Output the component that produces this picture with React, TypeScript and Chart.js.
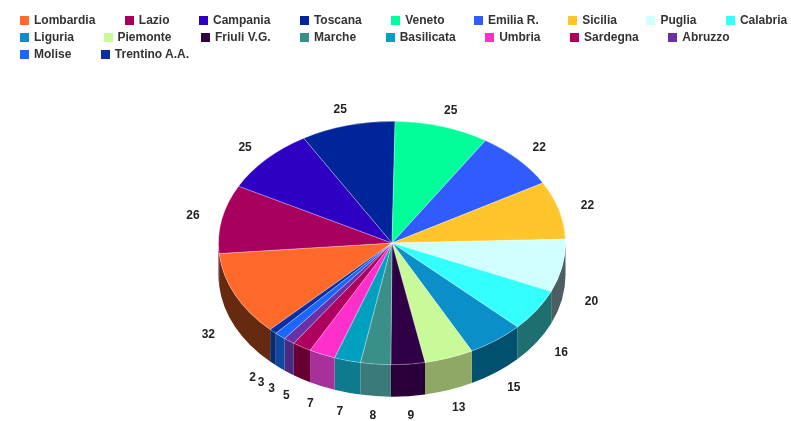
import React, { useEffect, useRef } from "react";
import { Chart, registerables } from "chart.js";

Chart.register(...registerables);

// Regions, clockwise from Lombardia, and the count for each one.
const regions = [
  "Lombardia", "Lazio", "Campania", "Toscana", "Veneto", "Emilia R.", "Sicilia", "Puglia", "Calabria",
  "Liguria", "Piemonte", "Friuli V.G.", "Marche", "Basilicata", "Umbria", "Sardegna", "Abruzzo",
  "Molise", "Trentino A.A.",
];
const counts = [32, 26, 25, 25, 25, 22, 22, 20, 16, 15, 13, 9, 8, 7, 7, 5, 3, 3, 2];

const topColors = [
  "#FF6A2B", "#A8005F", "#2D00C4", "#00259A", "#00FF99", "#2F5BFF", "#FFC52B", "#CFFFFF", "#33FFFF",
  "#0A8FC8", "#C8FA9A", "#2F0045", "#3A9088", "#00A0C0", "#FF2FCB", "#B0005F", "#6A30A8", "#1A66FF", "#0A2FA0",
];
const wallColors = [
  "#652A10", "#60003A", "#1A0070", "#001560", "#009958", "#1C3699", "#99761A", "#4C5E62", "#1F6E70",
  "#00506E", "#8FA865", "#2A003A", "#3A7A78", "#0E7A8E", "#A8309A", "#660033", "#4A2A80", "#0C4AA0", "#0A2A6A",
];

const FONT = '"Liberation Sans", Arial, sans-serif';
const TILT = 122 / 174; // vertical squash of the disc
const DEPTH = 32; // height of the disc's rim
const START_DEGREES = 224.6;

// Squashes the disc and paints its rim beneath the slices.
const discPlugin = {
  id: "disc",
  beforeDatasetsDraw(chart: Chart) {
    const { ctx } = chart;
    const arcs = chart.getDatasetMeta(0).data as any[];
    const { x: cx, y: cy, outerRadius: rx } = arcs[0];
    const ry = rx * TILT;
    arcs.forEach((arc, i) => {
      const turn = Math.PI * 2;
      for (const shift of [0, turn, -turn]) {
        const a0 = Math.max(arc.startAngle + shift, 0);
        const a1 = Math.min(arc.endAngle + shift, Math.PI);
        if (a1 <= a0) continue;
        ctx.beginPath();
        ctx.ellipse(cx, cy, rx, ry, 0, a0, a1);
        ctx.ellipse(cx, cy + DEPTH, rx, ry, 0, a1, a0, true);
        ctx.closePath();
        ctx.fillStyle = wallColors[i];
        ctx.fill();
      }
    });
    ctx.save();
    ctx.translate(cx, cy);
    ctx.scale(1, TILT);
    ctx.translate(-cx, -cy);
  },
  afterDatasetsDraw(chart: Chart) {
    chart.ctx.restore();
  },
};

// Writes each slice's count just outside the rim.
const countLabelPlugin = {
  id: "countLabels",
  afterDraw(chart: Chart) {
    const { ctx } = chart;
    const arcs = chart.getDatasetMeta(0).data as any[];
    ctx.save();
    ctx.font = `bold 12px ${FONT}`;
    ctx.fillStyle = "#222";
    ctx.textAlign = "center";
    ctx.textBaseline = "middle";
    arcs.forEach((arc, i) => {
      const mid = (arc.startAngle + arc.endAngle) / 2;
      const dx = Math.cos(mid);
      const dy = Math.sin(mid);
      const x = arc.x + 203 * dx;
      const y = dy > 0 ? arc.y + 141 * dy + DEPTH : arc.y + 138 * dy;
      ctx.fillText(String(counts[i]), x, y);
    });
    ctx.restore();
  },
};

export default function App() {
  const canvasRef = useRef<HTMLCanvasElement>(null);

  useEffect(() => {
    const chart = new Chart(canvasRef.current!, {
      type: "pie",
      data: {
        labels: regions,
        datasets: [
          {
            data: counts,
            backgroundColor: topColors,
            borderColor: "rgba(255,255,255,0.35)",
            borderWidth: 1,
          },
        ],
      },
      options: {
        responsive: false,
        animation: false,
        rotation: START_DEGREES,
        layout: { padding: { top: 69, bottom: 4, left: 0, right: 7 } },
        plugins: { legend: { display: false }, tooltip: { enabled: false } },
      },
      plugins: [discPlugin, countLabelPlugin],
    });
    return () => chart.destroy();
  }, []);

  return (
    <div style={{ position: "fixed", left: 0, top: 0, width: 791, height: 421, background: "#fff", overflow: "hidden" }}>
      <canvas ref={canvasRef} width={791} height={421} style={{ position: "absolute", left: 0, top: 0 }} />
      <div
        style={{
          position: "absolute",
          left: 20,
          top: 12,
          width: 771,
          display: "flex",
          flexWrap: "wrap",
          columnGap: 29.5,
          font: `bold 12px/17px ${FONT}`,
          color: "#333",
        }}
      >
        {regions.map((name, i) => (
          <span key={name} style={{ display: "flex", alignItems: "center", gap: 5 }}>
            <i style={{ width: 9, height: 9, background: topColors[i], display: "block" }} />
            {name}
          </span>
        ))}
      </div>
    </div>
  );
}
